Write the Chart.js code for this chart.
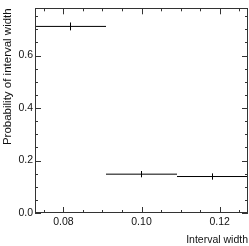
<!DOCTYPE html>
<html>
<head>
<meta charset="utf-8">
<script src="https://cdn.jsdelivr.net/npm/chart.js@4/dist/chart.umd.min.js"></script>
<style>
  html, body { margin: 0; padding: 0; background: #fff; }
  canvas { display: block; }
</style>
</head>
<body>
<canvas id="c" width="249" height="246"></canvas>
<script>
// histogram bins (edges), contents and errors
const binEdges = [0.07273, 0.09091, 0.10909, 0.12727];
const binValues = [0.711, 0.148, 0.139];
const binErrors = [0.015, 0.012, 0.012];

const xTickValues = [0.08, 0.10, 0.12];
const yTickValues = [0.0, 0.2, 0.4, 0.6];

const FAMILY = '"Liberation Sans", Arial, Helvetica, sans-serif';
const FONT = { family: FAMILY, size: 10.5 };

const datasets = [];
binValues.forEach((v, i) => {
  datasets.push({
    data: [{ x: binEdges[i], y: v }, { x: binEdges[i + 1], y: v }],
    borderColor: '#000', borderWidth: 1, pointRadius: 0, showLine: true
  });
  const mid = (binEdges[i] + binEdges[i + 1]) / 2;
  datasets.push({
    data: [{ x: mid, y: v - binErrors[i] }, { x: mid, y: v + binErrors[i] }],
    borderColor: '#000', borderWidth: 1, pointRadius: 0, showLine: true
  });
});

// ROOT style frame with inward ticks on all four sides
const frameTicks = {
  id: 'frameTicks',
  afterDatasetsDraw(chart) {
    const { ctx, chartArea: a, scales: { x, y } } = chart;
    ctx.save();
    ctx.strokeStyle = '#333';
    ctx.lineWidth = 1;
    ctx.strokeRect(Math.round(a.left) + 0.5, Math.round(a.top) + 0.5,
      Math.round(a.right - a.left) - 1, Math.round(a.bottom - a.top) - 1);
    ctx.beginPath();
    // x ticks every 0.005, major every 0.02
    for (let k = Math.ceil(x.min / 0.005); k * 0.005 <= x.max; k++) {
      const px = Math.round(x.getPixelForValue(k * 0.005)) + 0.5;
      const len = k % 4 === 0 ? 6 : 3;
      ctx.moveTo(px, a.bottom); ctx.lineTo(px, a.bottom - len);
      ctx.moveTo(px, a.top); ctx.lineTo(px, a.top + len);
    }
    // y ticks every 0.05, major every 0.2
    for (let k = 0; k * 0.05 <= y.max; k++) {
      const py = Math.round(y.getPixelForValue(k * 0.05)) + 0.5;
      const len = k % 4 === 0 ? 6 : 3;
      ctx.moveTo(a.left, py); ctx.lineTo(a.left + len, py);
      ctx.moveTo(a.right, py); ctx.lineTo(a.right - len, py);
    }
    ctx.stroke();
    ctx.restore();
  }
};

new Chart(document.getElementById('c'), {
  type: 'scatter',
  data: { datasets },
  options: {
    responsive: false,
    animation: false,
    events: [],
    layout: { padding: { top: 0, right: 1, left: 0, bottom: 0 } },
    plugins: { legend: { display: false }, tooltip: { enabled: false } },
    scales: {
      x: {
        type: 'linear',
        min: binEdges[0],
        max: binEdges[binEdges.length - 1],
        afterBuildTicks: s => { s.ticks = xTickValues.map(v => ({ value: v })); },
        afterFit: s => { s.height = 33; },
        grid: { display: false, drawTicks: false },
        border: { display: false },
        ticks: { font: FONT, color: '#111', padding: 3, maxRotation: 0, autoSkip: false,
                 callback: v => v.toFixed(2) },
        title: { display: true, text: 'Interval width', align: 'end', font: FONT, color: '#111',
                 padding: { top: 0, bottom: 0 } }
      },
      y: {
        type: 'linear',
        min: 0,
        max: 0.78,
        afterBuildTicks: s => { s.ticks = yTickValues.map(v => ({ value: v })); },
        afterFit: s => { s.width = 35; },
        grid: { display: false, drawTicks: false },
        border: { display: false },
        ticks: { font: FONT, color: '#111', padding: 2, autoSkip: false,
                 callback: v => v.toFixed(1) },
        title: { display: true, text: 'Probability of interval width', align: 'end',
                 font: { family: FAMILY, size: 11.5 }, color: '#111',
                 padding: { top: 1, bottom: 0 } }
      }
    }
  },
  plugins: [frameTicks]
});
</script>
</body>
</html>
